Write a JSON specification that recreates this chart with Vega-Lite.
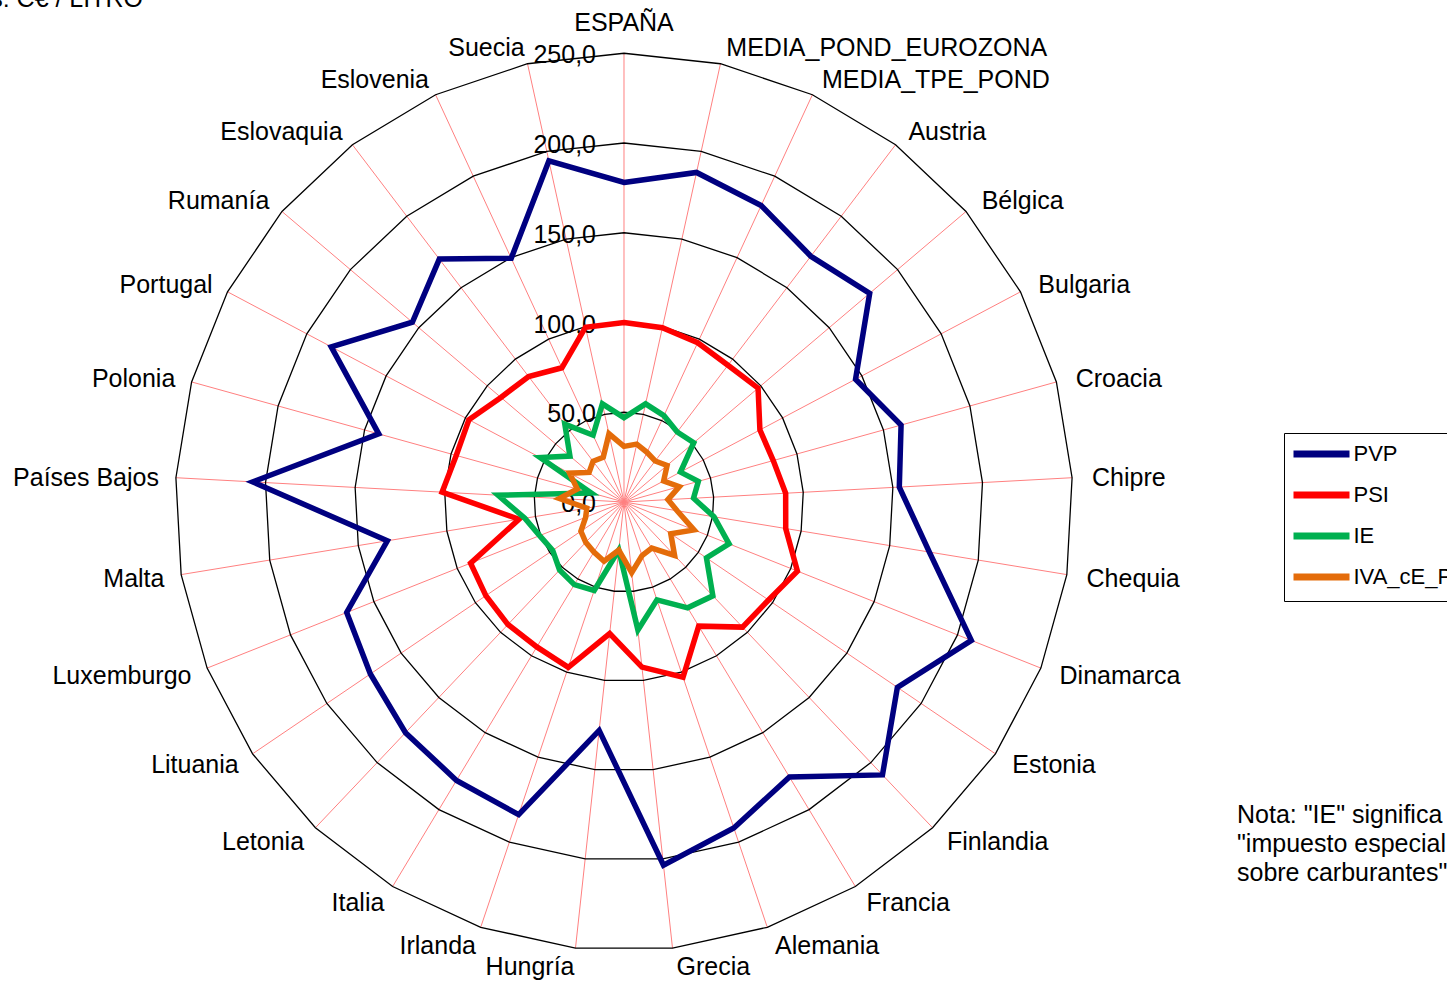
{
  "$schema": "https://vega.github.io/schema/vega-lite/v6.json",
  "width": 1447,
  "height": 981,
  "autosize": "none",
  "padding": 0,
  "background": "white",
  "config": {
    "view": {"stroke": null},
    "font": "Liberation Sans",
    "locale": {"number": {"decimal": ",", "thousands": ".", "grouping": [3], "currency": ["", " €"]}}
  },
  "datasets": {
    "paises": [
      {"idx": 0, "name": "ESPAÑA", "PVP": 178, "PSI": 100, "IE": 47, "IVA_cE_PVP": 31},
      {"idx": 1, "name": "MEDIA_POND_EUROZONA", "PVP": 188, "PSI": 99.4, "IE": 56, "IVA_cE_PVP": 33},
      {"idx": 2, "name": "MEDIA_TPE_POND", "PVP": 182, "PSI": 97.8, "IE": 53, "IVA_cE_PVP": 30.5},
      {"idx": 3, "name": "Austria", "PVP": 172, "PSI": 95.7, "IE": 49, "IVA_cE_PVP": 28.7},
      {"idx": 4, "name": "Bélgica", "PVP": 179.6, "PSI": 98, "IE": 51, "IVA_cE_PVP": 31.5},
      {"idx": 5, "name": "Bulgaria", "PVP": 146, "PSI": 85.7, "IE": 35.6, "IVA_cE_PVP": 25},
      {"idx": 6, "name": "Croacia", "PVP": 160.2, "PSI": 86.3, "IE": 43, "IVA_cE_PVP": 32},
      {"idx": 7, "name": "Chipre", "PVP": 153.6, "PSI": 90.2, "IE": 38.8, "IVA_cE_PVP": 24.5},
      {"idx": 8, "name": "Chequia", "PVP": 172.4, "PSI": 91.3, "IE": 50.8, "IVA_cE_PVP": 30},
      {"idx": 9, "name": "Dinamarca", "PVP": 208.3, "PSI": 104, "IE": 63, "IVA_cE_PVP": 42},
      {"idx": 10, "name": "Estonia", "PVP": 184, "PSI": 97.3, "IE": 55.5, "IVA_cE_PVP": 31.5},
      {"idx": 11, "name": "Finlandia", "PVP": 209.4, "PSI": 96, "IE": 72, "IVA_cE_PVP": 41},
      {"idx": 12, "name": "Francia", "PVP": 178.8, "PSI": 80.7, "IE": 68.8, "IVA_cE_PVP": 30},
      {"idx": 13, "name": "Alemania", "PVP": 191.6, "PSI": 103, "IE": 57.5, "IVA_cE_PVP": 31.5},
      {"idx": 14, "name": "Grecia", "PVP": 203.5, "PSI": 92.5, "IE": 71.7, "IVA_cE_PVP": 39.6},
      {"idx": 15, "name": "Hungría", "PVP": 128, "PSI": 73.7, "IE": 27, "IVA_cE_PVP": 27},
      {"idx": 16, "name": "Irlanda", "PVP": 183.8, "PSI": 97.2, "IE": 52, "IVA_cE_PVP": 34.8},
      {"idx": 17, "name": "Italia", "PVP": 181, "PSI": 94.2, "IE": 53.7, "IVA_cE_PVP": 32.5},
      {"idx": 18, "name": "Letonia", "PVP": 177, "PSI": 94, "IE": 52.2, "IVA_cE_PVP": 31},
      {"idx": 19, "name": "Lituania", "PVP": 170.7, "PSI": 93, "IE": 48, "IVA_cE_PVP": 29},
      {"idx": 20, "name": "Luxemburgo", "PVP": 166.3, "PSI": 92, "IE": 50.6, "IVA_cE_PVP": 23},
      {"idx": 21, "name": "Malta", "PVP": 133.6, "PSI": 59.3, "IE": 56, "IVA_cE_PVP": 21},
      {"idx": 22, "name": "Países Bajos", "PVP": 207.2, "PSI": 101.5, "IE": 70.3, "IVA_cE_PVP": 36},
      {"idx": 23, "name": "Polonia", "PVP": 141.8, "PSI": 97, "IE": 19, "IVA_cE_PVP": 27},
      {"idx": 24, "name": "Portugal", "PVP": 184.6, "PSI": 97.8, "IE": 52.8, "IVA_cE_PVP": 34.3},
      {"idx": 25, "name": "Rumanía", "PVP": 154.7, "PSI": 90, "IE": 39.5, "IVA_cE_PVP": 25.5},
      {"idx": 26, "name": "Eslovaquia", "PVP": 170, "PSI": 87.8, "IE": 54.5, "IVA_cE_PVP": 28.5},
      {"idx": 27, "name": "Eslovenia", "PVP": 149.6, "PSI": 82.4, "IE": 41, "IVA_cE_PVP": 27.5},
      {"idx": 28, "name": "Suecia", "PVP": 194.6, "PSI": 99.7, "IE": 56, "IVA_cE_PVP": 38.9}
    ],
    "ticks": [{"t": 0}, {"t": 50}, {"t": 100}, {"t": 150}, {"t": 200}, {"t": 250}],
    "notas": [
      {"nx": 341.5, "ny": -178.6, "texto": "Nota: \"IE\" significa|\"impuesto especial|sobre carburantes\""}
    ],
    "unidad": [{"ux": -267.97, "uy": 275.6, "texto": "Unidades: C€ / LITRO"}]
  },
  "layer": [
    {
      "data": {"name": "paises"},
      "transform": [
        {"calculate": "250*sin(datum.idx*2*PI/29)", "as": "x"},
        {"calculate": "250*cos(datum.idx*2*PI/29)", "as": "y"},
        {"calculate": "0", "as": "x0"},
        {"calculate": "0", "as": "y0"}
      ],
      "mark": {"type": "rule", "color": "#FF8080", "strokeWidth": 1},
      "encoding": {
        "x": {"field": "x0", "type": "quantitative", "scale": {"domain": [-347.63, 458.5], "nice": false, "zero": false}, "axis": null},
        "y": {"field": "y0", "type": "quantitative", "scale": {"domain": [-266.85, 279.67], "nice": false, "zero": false}, "axis": null},
        "x2": {"field": "x"},
        "y2": {"field": "y"}
      }
    },
    {
      "data": {"name": "paises"},
      "transform": [
        {"calculate": "[50,100,150,200,250]", "as": "lv"},
        {"flatten": ["lv"]},
        {"calculate": "datum.lv*sin(datum.idx*2*PI/29)", "as": "x"},
        {"calculate": "datum.lv*cos(datum.idx*2*PI/29)", "as": "y"}
      ],
      "mark": {"type": "line", "color": "black", "strokeWidth": 1.3, "interpolate": "linear-closed"},
      "encoding": {
        "x": {"field": "x", "type": "quantitative", "scale": {"domain": [-347.63, 458.5], "nice": false, "zero": false}, "axis": null},
        "y": {"field": "y", "type": "quantitative", "scale": {"domain": [-266.85, 279.67], "nice": false, "zero": false}, "axis": null},
        "detail": {"field": "lv", "type": "nominal"},
        "order": {"field": "idx", "type": "quantitative"}
      }
    },
    {
      "data": {"name": "ticks"},
      "transform": [{"calculate": "0", "as": "x0"}],
      "mark": {"type": "text", "align": "right", "baseline": "middle", "dx": -28, "dy": 2, "fontSize": 25, "color": "black", "font": "Liberation Sans"},
      "encoding": {
        "x": {"field": "x0", "type": "quantitative", "scale": {"domain": [-347.63, 458.5], "nice": false, "zero": false}, "axis": null},
        "y": {"field": "t", "type": "quantitative", "scale": {"domain": [-266.85, 279.67], "nice": false, "zero": false}, "axis": null},
        "text": {"field": "t", "type": "quantitative", "format": ".1f"}
      }
    },
    {
      "data": {"name": "paises"},
      "transform": [
        {"filter": "datum.idx >= 1 && datum.idx <= 14"},
        {"calculate": "260*sin(datum.idx*2*PI/29)", "as": "x"},
        {"calculate": "260*cos(datum.idx*2*PI/29)", "as": "y"}
      ],
      "mark": {"type": "text", "align": "left", "baseline": "middle", "dx": 2, "dy": 1.5, "fontSize": 25, "color": "black", "font": "Liberation Sans"},
      "encoding": {
        "x": {"field": "x", "type": "quantitative", "scale": {"domain": [-347.63, 458.5], "nice": false, "zero": false}, "axis": null},
        "y": {"field": "y", "type": "quantitative", "scale": {"domain": [-266.85, 279.67], "nice": false, "zero": false}, "axis": null},
        "text": {"field": "name", "type": "nominal"}
      }
    },
    {
      "data": {"name": "paises"},
      "transform": [
        {"filter": "datum.idx >= 15"},
        {"calculate": "260*sin(datum.idx*2*PI/29)", "as": "x"},
        {"calculate": "260*cos(datum.idx*2*PI/29)", "as": "y"}
      ],
      "mark": {"type": "text", "align": "right", "baseline": "middle", "dx": 1, "dy": 1.5, "fontSize": 25, "color": "black", "font": "Liberation Sans"},
      "encoding": {
        "x": {"field": "x", "type": "quantitative", "scale": {"domain": [-347.63, 458.5], "nice": false, "zero": false}, "axis": null},
        "y": {"field": "y", "type": "quantitative", "scale": {"domain": [-266.85, 279.67], "nice": false, "zero": false}, "axis": null},
        "text": {"field": "name", "type": "nominal"}
      }
    },
    {
      "data": {"name": "paises"},
      "transform": [
        {"filter": "datum.idx == 0"},
        {"calculate": "260*sin(datum.idx*2*PI/29)", "as": "x"},
        {"calculate": "260*cos(datum.idx*2*PI/29)", "as": "y"}
      ],
      "mark": {"type": "text", "align": "center", "baseline": "middle", "dy": -12, "fontSize": 25, "color": "black", "font": "Liberation Sans"},
      "encoding": {
        "x": {"field": "x", "type": "quantitative", "scale": {"domain": [-347.63, 458.5], "nice": false, "zero": false}, "axis": null},
        "y": {"field": "y", "type": "quantitative", "scale": {"domain": [-266.85, 279.67], "nice": false, "zero": false}, "axis": null},
        "text": {"field": "name", "type": "nominal"}
      }
    },
    {
      "data": {"name": "paises"},
      "transform": [
        {"fold": ["PVP", "PSI", "IE", "IVA_cE_PVP"], "as": ["serie", "v"]},
        {"calculate": "datum.v*sin(datum.idx*2*PI/29)", "as": "x"},
        {"calculate": "datum.v*cos(datum.idx*2*PI/29)", "as": "y"}
      ],
      "mark": {"type": "line", "strokeWidth": 5.5, "interpolate": "linear-closed", "strokeJoin": "miter"},
      "encoding": {
        "x": {"field": "x", "type": "quantitative", "scale": {"domain": [-347.63, 458.5], "nice": false, "zero": false}, "axis": null},
        "y": {"field": "y", "type": "quantitative", "scale": {"domain": [-266.85, 279.67], "nice": false, "zero": false}, "axis": null},
        "order": {"field": "idx", "type": "quantitative"},
        "color": {
          "field": "serie",
          "type": "nominal",
          "scale": {"domain": ["PVP", "PSI", "IE", "IVA_cE_PVP"], "range": ["#000080", "#FF0000", "#00B050", "#E46C0A"]},
          "legend": {
            "orient": "none",
            "legendX": 1284,
            "legendY": 433,
            "title": null,
            "strokeColor": "black",
            "fillColor": "white",
            "padding": 10,
            "symbolType": "M-4,0H4",
            "symbolStrokeWidth": 7,
            "symbolSize": 196,
            "symbolOffset": 16.5,
            "labelFontSize": 22,
            "labelFont": "Liberation Sans",
            "labelColor": "black",
            "labelOffset": 21,
            "rowPadding": 13,
            "labelLimit": 400
          }
        }
      }
    },
    {
      "data": {"name": "notas"},
      "transform": [{"calculate": "split(datum.texto, '|')", "as": "lineas"}],
      "mark": {"type": "text", "align": "left", "baseline": "alphabetic", "fontSize": 25, "lineHeight": 29, "color": "black", "font": "Liberation Sans"},
      "encoding": {
        "x": {"field": "nx", "type": "quantitative", "scale": {"domain": [-347.63, 458.5], "nice": false, "zero": false}, "axis": null},
        "y": {"field": "ny", "type": "quantitative", "scale": {"domain": [-266.85, 279.67], "nice": false, "zero": false}, "axis": null},
        "text": {"field": "lineas"}
      }
    },
    {
      "data": {"name": "unidad"},
      "mark": {"type": "text", "align": "right", "baseline": "alphabetic", "fontSize": 25, "color": "black", "font": "Liberation Sans"},
      "encoding": {
        "x": {"field": "ux", "type": "quantitative", "scale": {"domain": [-347.63, 458.5], "nice": false, "zero": false}, "axis": null},
        "y": {"field": "uy", "type": "quantitative", "scale": {"domain": [-266.85, 279.67], "nice": false, "zero": false}, "axis": null},
        "text": {"field": "texto", "type": "nominal"}
      }
    }
  ]
}
